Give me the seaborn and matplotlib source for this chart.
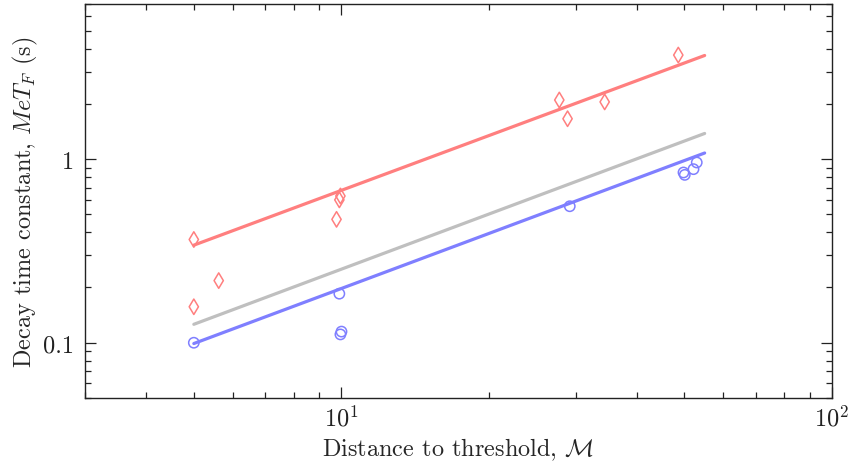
import matplotlib
matplotlib.use("Agg")
import matplotlib.pyplot as plt
import matplotlib.ticker as mticker
import seaborn as sns
import pandas as pd

# measured points (distance to threshold, decay time constant)
red_x = [5.0, 5.0, 5.62, 9.77, 9.9, 9.95, 27.8, 28.9, 34.4, 48.6]
red_y = [0.365, 0.157, 0.218, 0.47, 0.60, 0.63, 2.10, 1.66, 2.05, 3.69]

blue_x = [5.0, 9.9, 9.95, 10.0, 29.2, 49.8, 50.1, 52.2, 53.0]
blue_y = [0.100, 0.185, 0.111, 0.115, 0.554, 0.846, 0.821, 0.882, 0.959]

# fitted power-law lines (end points)
fit_x = [5.0, 55.0]
red_fit = [0.340, 3.67]
gray_fit = [0.126, 1.38]
blue_fit = [0.099, 1.08]

RED = "#ff7f7f"
BLUE = "#7f7fff"
GRAY = "#bfbfbf"

sns.set_style("ticks")
plt.rcParams["font.family"] = ["cmr10", "DejaVu Serif"]
plt.rcParams["mathtext.fontset"] = "cm"
plt.rcParams["axes.formatter.use_mathtext"] = True

fig = plt.figure(figsize=(8.49, 4.64), dpi=100)
# axes: x 85..832 px, y 5..399 px
ax = fig.add_axes([85 / 849, 1 - 399 / 464, 747 / 849, 394 / 464])
ax.set_xscale("log")
ax.set_yscale("log")

sns.lineplot(x=fit_x, y=gray_fit, color=GRAY, linewidth=2.3, ax=ax)
sns.lineplot(x=fit_x, y=red_fit, color=RED, linewidth=2.3, ax=ax)
sns.lineplot(x=fit_x, y=blue_fit, color=BLUE, linewidth=2.3, ax=ax)

sns.scatterplot(x=red_x, y=red_y, marker="d", s=62, facecolor="none",
                edgecolor=RED, linewidth=1.1, ax=ax, zorder=3)
sns.scatterplot(x=blue_x, y=blue_y, marker="o", s=55, facecolor="none",
                edgecolor=BLUE, linewidth=1.1, ax=ax, zorder=3)

ax.set_xlim(3, 100)
ax.set_ylim(0.05, 7)

ax.yaxis.set_major_locator(mticker.FixedLocator([0.1, 1]))
ax.yaxis.set_major_formatter(mticker.FixedFormatter(["0.1", "1"]))
ax.yaxis.set_minor_locator(mticker.LogLocator(base=10, subs=range(2, 10), numticks=20))
ax.yaxis.set_minor_formatter(mticker.NullFormatter())

ax.tick_params(which="both", direction="in", top=True, right=True,
               labelsize=17.5, width=0.9, colors="#222222")
ax.tick_params(which="major", length=8)
ax.tick_params(axis="y", which="major", pad=8)
ax.tick_params(axis="x", which="major", pad=5)
ax.tick_params(which="minor", length=4)
for sp in ax.spines.values():
    sp.set_linewidth(1.0)
    sp.set_color("#222222")

ax.set_xlabel(r"Distance to threshold, $\mathcal{M}$", fontsize=17.5)
ax.xaxis.set_label_coords(0.5, -57 / 394)
ax.xaxis.label.set_verticalalignment("baseline")
ax.set_ylabel(r"Decay time constant, $MeT_F$ (s)", fontsize=17.5)
ax.yaxis.set_label_coords(-54 / 747, 0.5)
ax.yaxis.label.set_verticalalignment("baseline")

fig.savefig("out.png", dpi=100)
